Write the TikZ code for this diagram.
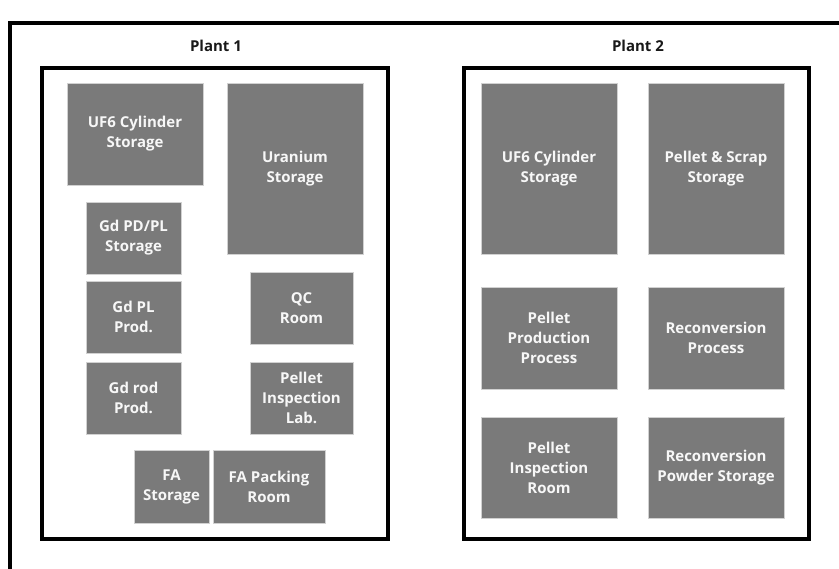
\documentclass[tikz,border=0pt]{standalone}
\usepackage{fontspec}
\setmainfont{Open Sans}[UprightFont=*, BoldFont=* Bold]
\begin{document}
\begin{tikzpicture}[x=1pt,y=-1pt,
  room/.style={draw=black!18, line width=0.6pt, fill=black!52, text=black!3,
    align=center, inner sep=0pt, font=\bfseries\fontsize{15}{20}\selectfont},
  plantframe/.style={draw=black, line width=4pt},
  plantlabel/.style={font=\bfseries\fontsize{15}{18}\selectfont, text=black!90}]
\useasboundingbox (0,0) rectangle (839,569);

% outer frame (top and left edges)
\coordinate (ftl) at (10,23);
\coordinate (ftr) at (845,23);
\coordinate (fbl) at (10,575);
\draw[line width=4pt] (ftr) -- (ftl) -- (fbl);

% plant enclosures
\draw[plantframe] (42,68) rectangle (388,539);
\draw[plantframe] (464,68) rectangle (809,539);
\node[plantlabel] (p1) at (216,46) {Plant 1};
\node[plantlabel] (p2) at (638,46) {Plant 2};

% Plant 1 rooms
\node[room, minimum width=136pt, minimum height=102pt] (uf6a) at (135,134) {UF6 Cylinder\\Storage};
\node[room, minimum width=136pt, minimum height=171pt] (uran) at (295,168.5) {Uranium\\Storage};
\node[room, minimum width=95pt, minimum height=72pt] (gdpd) at (133.5,238) {Gd PD/PL\\Storage};
\node[room, minimum width=95pt, minimum height=72pt] (gdpl) at (133.5,317) {Gd PL\\Prod.};
\node[room, minimum width=95pt, minimum height=72pt] (gdrod) at (133.5,398) {Gd rod\\Prod.};
\node[room, minimum width=103pt, minimum height=72pt] (qc) at (301.5,308) {QC\\Room};
\node[room, minimum width=103pt, minimum height=72pt] (pil) at (301.5,398) {Pellet\\Inspection\\Lab.};
\node[room, minimum width=75pt, minimum height=73pt] (fas) at (171.5,486.5) {FA\\Storage};
\node[room, minimum width=112pt, minimum height=73pt] (fapk) at (269,486.5) {FA Packing\\Room};

% Plant 2 rooms
\node[room, minimum width=136pt, minimum height=171pt] (uf6b) at (549,168.5) {UF6 Cylinder\\Storage};
\node[room, minimum width=136pt, minimum height=171pt] (psst) at (716,168.5) {Pellet \& Scrap\\Storage};
\node[room, minimum width=136pt, minimum height=102pt] (ppp) at (549,338) {Pellet\\Production\\Process};
\node[room, minimum width=136pt, minimum height=102pt] (rcp) at (716,338) {Reconversion\\Process};
\node[room, minimum width=136pt, minimum height=101pt] (pir) at (549,467.5) {Pellet\\Inspection\\Room};
\node[room, minimum width=136pt, minimum height=101pt] (rps) at (716,467.5) {Reconversion\\Powder Storage};
\end{tikzpicture}
\end{document}
